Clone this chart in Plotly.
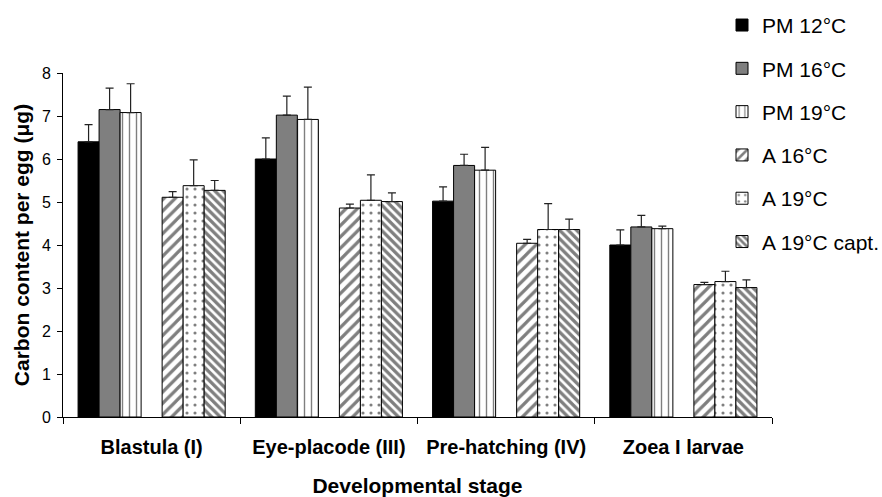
import plotly.graph_objects as go

stages = ["Blastula (I)", "Eye-placode (III)", "Pre-hatching (IV)", "Zoea I larvae"]

pm12 = [6.40, 6.00, 5.02, 4.00]
pm12_err = [0.40, 0.49, 0.33, 0.35]
pm16 = [7.15, 7.02, 5.85, 4.42]
pm16_err = [0.50, 0.44, 0.26, 0.27]
pm19 = [7.08, 6.92, 5.74, 4.38]
pm19_err = [0.67, 0.75, 0.53, 0.06]
a16 = [5.11, 4.86, 4.04, 3.08]
a16_err = [0.13, 0.09, 0.09, 0.05]
a19 = [5.38, 5.04, 4.36, 3.15]
a19_err = [0.60, 0.59, 0.60, 0.24]
a19c = [5.27, 5.01, 4.36, 3.01]
a19c_err = [0.23, 0.20, 0.24, 0.18]

series = [
    ("PM 12°C", pm12, pm12_err, dict(color="black")),
    ("PM 16°C", pm16, pm16_err, dict(color="#7f7f7f")),
    ("PM 19°C", pm19, pm19_err, dict(color="white", pattern=dict(shape="|", fgcolor="black", bgcolor="white", size=7, solidity=0.2))),
    (None, None, None, None),
    ("A 16°C", a16, a16_err, dict(color="white", pattern=dict(shape="/", fgcolor="black", bgcolor="white", size=8, solidity=0.4))),
    ("A 19°C", a19, a19_err, dict(color="white", pattern=dict(shape=".", fgcolor="black", bgcolor="white", size=8, solidity=0.12))),
    ("A 19°C capt.", a19c, a19c_err, dict(color="white", pattern=dict(shape="\\", fgcolor="black", bgcolor="white", size=6, solidity=0.55))),
]

fig = go.Figure()
for i, (name, vals, errs, mk) in enumerate(series):
    if name is None:
        fig.add_trace(go.Bar(x=stages, y=[None] * len(stages), showlegend=False, hoverinfo="skip"))
        continue
    fig.add_trace(go.Bar(
        x=stages, y=vals, name=name, legendgroup=name,
        marker=dict(line=dict(color="black", width=1), **mk),
        error_y=dict(type="data", array=errs, arrayminus=[0] * len(errs), symmetric=False,
                     color="#222222", thickness=1.2, width=4),
    ))

font_family = "Liberation Sans, Arial, Helvetica, sans-serif"
fig.update_layout(
    width=882, height=497,
    margin=dict(l=63, r=110, t=73, b=80, autoexpand=False),
    paper_bgcolor="white", plot_bgcolor="white",
    barmode="group", bargap=0.17, bargroupgap=0,
    font=dict(family=font_family, color="black", size=16),
    legend=dict(x=0.9295, y=1.198, xanchor="left", yanchor="top",
                font=dict(size=21, family=font_family), tracegroupgap=13,
                bgcolor="rgba(0,0,0,0)"),
    xaxis=dict(showline=True, linecolor="black", linewidth=1, ticks="outside",
               tickson="boundaries", ticklen=6, tickcolor="black", automargin=False,
               tickfont=dict(size=20, weight="bold"), ticklabelstandoff=12,
               title=dict(text="Developmental stage", font=dict(size=21, weight="bold"), standoff=27)),
    yaxis=dict(range=[0, 8], dtick=1, showline=True, linecolor="black", linewidth=1,
               ticks="outside", ticklen=5, tickcolor="black", showgrid=False, zeroline=False,
               tickfont=dict(size=16), ticklabelstandoff=3, automargin=False,
               title=dict(text="Carbon content per egg (μg)", font=dict(size=21, weight="bold"), standoff=6)),
)

fig.write_html("out.html", config={"displayModeBar": False},
               post_script="document.body.style.margin='0';")
